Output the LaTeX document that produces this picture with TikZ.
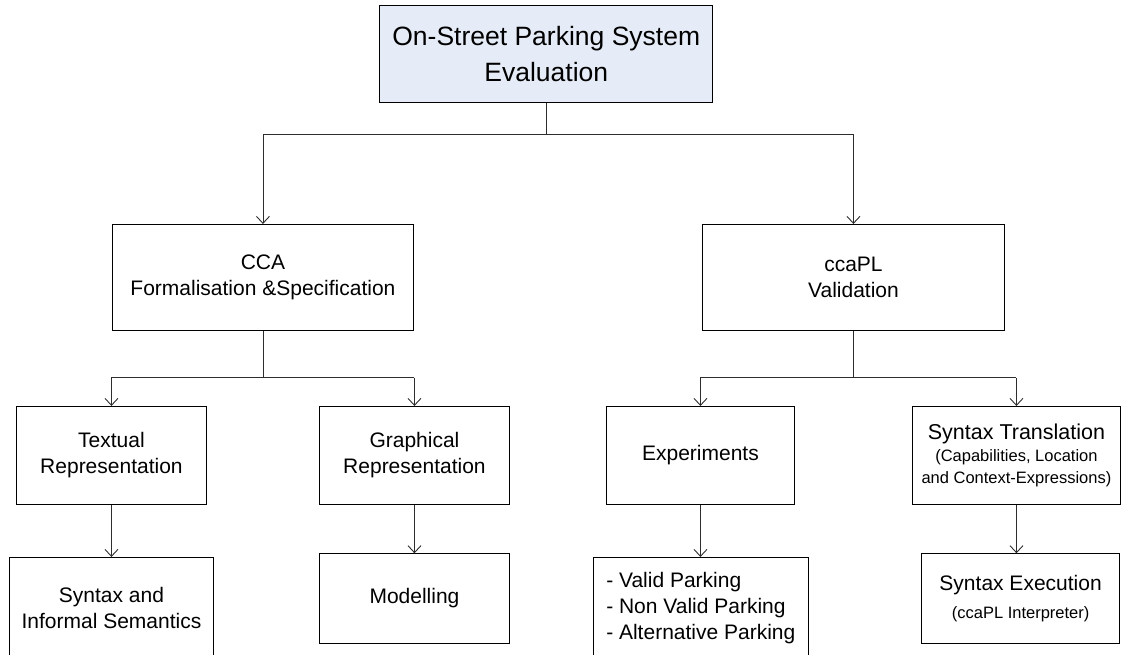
\documentclass[tikz,border=0pt]{standalone}
\usepackage{fontspec}
\setmainfont{Liberation Sans}
\usetikzlibrary{arrows.meta}

\definecolor{titlefill}{RGB}{230,236,247}
\definecolor{linegray}{RGB}{45,45,45}

\newcommand\diagtitle{\fontsize{26.5}{36}\selectfont}
\newcommand\diagbody{\fontsize{21}{26}\selectfont}
\newcommand\diagsmall{\fontsize{16.5}{20.5}\selectfont}

\begin{document}
\begin{tikzpicture}[x=1pt,y=-1pt,
  box/.style={draw=black, line width=0.9pt, inner sep=0pt, anchor=north west,
              align=center, font=\diagbody},
  link/.style={draw=linegray, line width=0.9pt},
  arr/.style={link, -{Straight Barb[length=7pt,width=13pt]}}]

\useasboundingbox (0,0) rectangle (1122,655);

% top level
\node[box, fill=titlefill, font=\diagtitle, minimum width=333pt, minimum height=97pt]
  (top) at (379.3,4.7) {On-Street Parking System\\Evaluation};

% second level
\node[box, minimum width=301pt, minimum height=106pt]
  (cca) at (112,224) {CCA\\Formalisation \&Specification};
\node[box, minimum width=302pt, minimum height=106pt]
  (ccapl) at (702,224) {ccaPL\\Validation};

% third level
\node[box, minimum width=189.4pt, minimum height=98pt]
  (textual) at (16.3,406) {Textual\\Representation};
\node[box, minimum width=189.4pt, minimum height=98pt]
  (graph) at (319.3,406) {Graphical\\Representation};
\node[box, minimum width=188.6pt, minimum height=98pt]
  (exper) at (605.7,406) {Experiments};
\node[box, minimum width=208pt, minimum height=98pt]
  (trans) at (912,406)
  {{\fontsize{21.5}{26}\selectfont Syntax Translation}\\[-4pt]
   {\diagsmall (Capabilities, Location}\\[-4pt]
   {\diagsmall and Context-Expressions)}};

% fourth level
\node[box, minimum width=204pt, minimum height=101pt]
  (syninf) at (9,557) {Syntax and\\Informal Semantics};
\node[box, minimum width=189.4pt, minimum height=89.4pt]
  (model) at (319.3,553.3) {Modelling};
\node[box, align=left, minimum width=215.3pt, minimum height=101pt]
  (valid) at (592.7,557) {- Valid Parking\\- Non Valid Parking\\- Alternative Parking};
\node[box, minimum width=198.3pt, minimum height=89.4pt]
  (exec) at (921,553.3) {Syntax Execution\\[2pt]{\diagsmall (ccaPL Interpreter)}};

% bus lines
\coordinate (busA) at (0,134);
\coordinate (busB) at (0,377.7);

% top -> second level
\draw[link] (top.south) -- (top.south |- busA);
\draw[arr] (top.south |- busA) -| (cca.north);
\draw[arr] (top.south |- busA) -| (ccapl.north);

% CCA branch
\draw[link] (cca.south) -- (cca.south |- busB);
\draw[link] (textual.north |- busB) -- (graph.north |- busB);
\draw[arr] (textual.north |- busB) -- (textual.north);
\draw[arr] (graph.north |- busB) -- (graph.north);

% ccaPL branch
\draw[link] (ccapl.south) -- (ccapl.south |- busB);
\draw[link] (exper.north |- busB) -- (trans.north |- busB);
\draw[arr] (exper.north |- busB) -- (exper.north);
\draw[arr] (trans.north |- busB) -- (trans.north);

% third -> fourth level
\draw[arr] (textual.south) -- (textual.south |- syninf.north);
\draw[arr] (graph.south) -- (graph.south |- model.north);
\draw[arr] (exper.south) -- (exper.south |- valid.north);
\draw[arr] (trans.south) -- (trans.south |- exec.north);

\end{tikzpicture}
\end{document}
